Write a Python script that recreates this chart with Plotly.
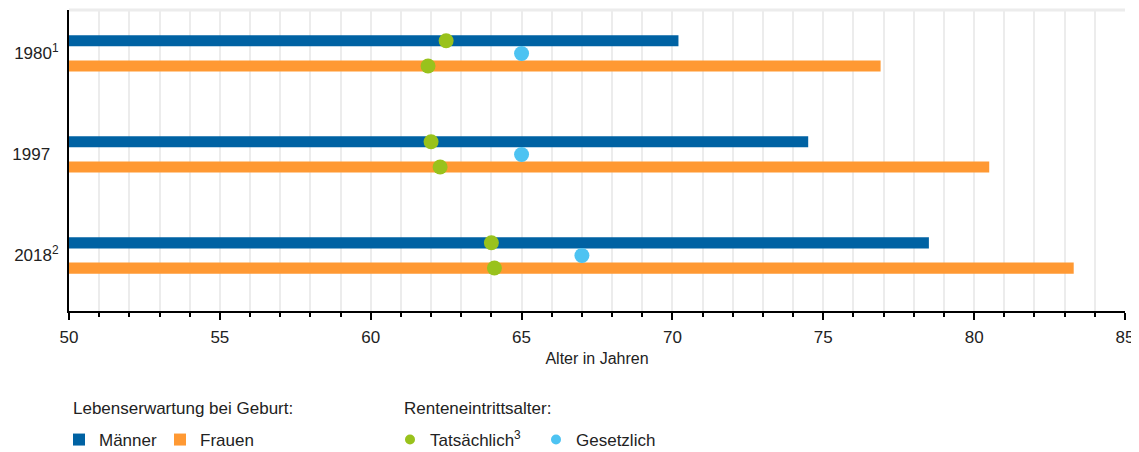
import plotly.graph_objects as go

# Data (ages in years)
years = ["1980<sup>1</sup>", "1997\u2002", "2018<sup>2</sup>"]
men_life = [70.2, 74.5, 78.5]
women_life = [76.9, 80.5, 83.3]
men_actual = [62.5, 62.0, 64.0]
women_actual = [61.9, 62.3, 64.1]
legal_age = [65, 65, 67]

dark_blue = "#0062a3"
orange = "#ff9933"
green = "#99c21c"
light_blue = "#4dc3f2"
font = "Liberation Sans, Arial"

# page body has an 8px margin, so the figure is a bit smaller
W, H = 1131, 444

pos = list(range(len(years)))
off = 0.125
pos_m = [p - off for p in pos]
pos_w = [p + off for p in pos]

fig = go.Figure()
fig.add_trace(go.Bar(x=men_life, y=pos_m, orientation="h", width=0.11,
                     marker=dict(color=dark_blue, line_width=0), name="Männer", legend="legend"))
fig.add_trace(go.Bar(x=women_life, y=pos_w, orientation="h", width=0.11,
                     marker=dict(color=orange, line_width=0), name="Frauen", legend="legend"))
fig.add_trace(go.Scatter(x=men_actual + women_actual, y=pos_m + pos_w, mode="markers",
                         marker=dict(color=green, size=15), showlegend=False))
fig.add_trace(go.Scatter(x=legal_age, y=pos, mode="markers",
                         marker=dict(color=light_blue, size=15), showlegend=False))
# legend entries with smaller dots
fig.add_trace(go.Scatter(x=[None], y=[None], mode="markers", marker=dict(color=green, size=10),
                         name="Tatsächlich<sup>3</sup>", legend="legend2"))
fig.add_trace(go.Scatter(x=[None], y=[None], mode="markers", marker=dict(color=light_blue, size=10),
                         name="Gesetzlich", legend="legend2"))

fig.update_layout(
    width=W, height=H,
    margin=dict(l=61, r=14, t=2, b=141),
    plot_bgcolor="white", paper_bgcolor="white",
    font=dict(family=font, size=17, color="#222"),
    barmode="overlay",
    xaxis=dict(range=[50, 85], dtick=5, tick0=50, ticks="outside", ticklen=7, tickwidth=1.5,
               tickcolor="black", showline=True, linecolor="black", linewidth=2,
               showgrid=True, gridcolor="#ececec", gridwidth=2, zeroline=False,
               minor=dict(dtick=1, ticks="outside", ticklen=4, tickcolor="black",
                          showgrid=True, gridcolor="#ececec", gridwidth=2),
               title=dict(text="Alter in Jahren", font=dict(size=16), standoff=6),
               ticklabelstandoff=3, automargin=False, fixedrange=True),
    yaxis=dict(range=[2.55, -0.43], tickvals=pos, ticktext=years, showline=True,
               linecolor="black", linewidth=2, showgrid=False, zeroline=False,
               ticks="", ticklabelstandoff=5, automargin=False, fixedrange=True),
    legend=dict(orientation="h", xref="container", yref="container", x=51 / W, y=1 - 432 / H,
                xanchor="left", yanchor="middle", font=dict(size=17), entrywidth=56,
                bgcolor="rgba(0,0,0,0)"),
    legend2=dict(orientation="h", xref="container", yref="container", x=382 / W, y=1 - 432 / H,
                 xanchor="left", yanchor="middle", font=dict(size=17), entrywidth=101,
                 bgcolor="rgba(0,0,0,0)"),
    annotations=[
        dict(text="Lebenserwartung bei Geburt:", xref="paper", yref="paper", x=2 / 1056, y=-97 / 301,
             xanchor="left", yanchor="middle", showarrow=False, font=dict(size=17)),
        dict(text="Renteneintrittsalter:", xref="paper", yref="paper", x=333 / 1056, y=-97 / 301,
             xanchor="left", yanchor="middle", showarrow=False, font=dict(size=17)),
    ],
    shapes=[dict(type="line", xref="paper", yref="paper", x0=0, x1=1, y0=1, y1=1,
                 line=dict(color="#ececec", width=3))],
)

fig.write_html("out.html")
